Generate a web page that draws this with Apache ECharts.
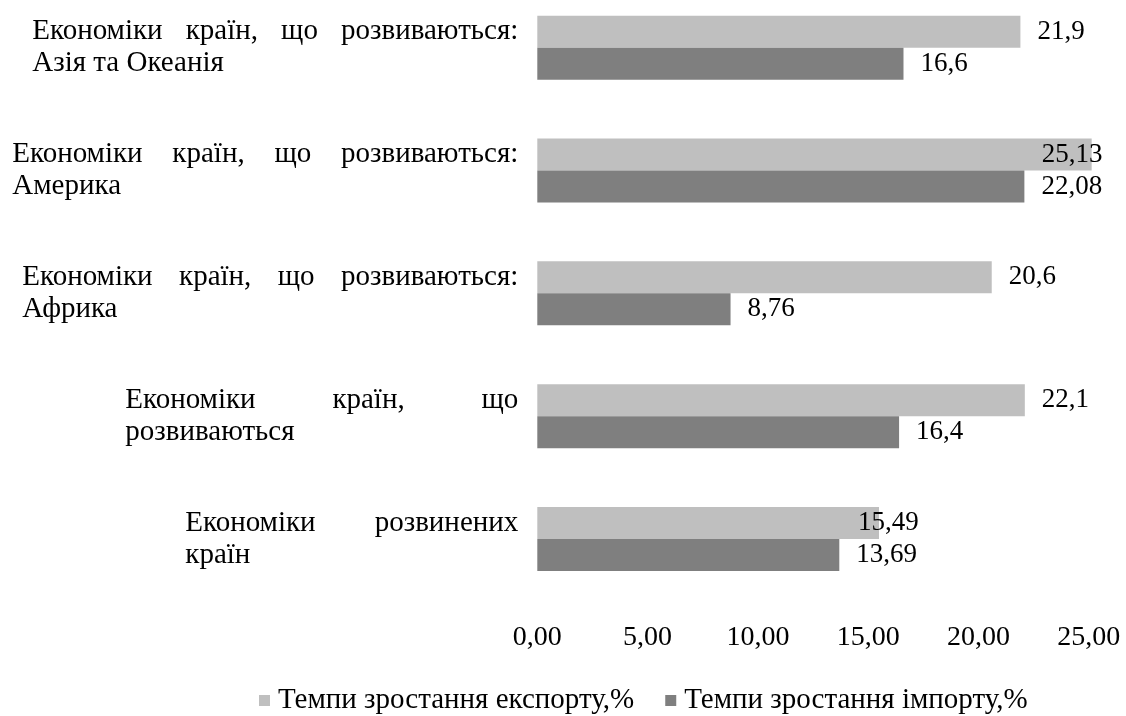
<!DOCTYPE html>
<html>
<head>
<meta charset="utf-8">
<script src="https://cdn.jsdelivr.net/npm/echarts@6/dist/echarts.min.js"></script>
<style>
html,body{margin:0;padding:0;background:#fff;}
#chart{width:1126px;height:716px;}
</style>
</head>
<body>
<div id="chart"></div>
<script>
// Data (bottom to top, as drawn on the category axis)
const categories = [
  'Економіки розвинених країн',
  'Економіки країн, що розвиваються',
  'Економіки країн, що розвиваються: Африка',
  'Економіки країн, що розвиваються: Америка',
  'Економіки країн, що розвиваються: Азія та Океанія'
];
const exportGrowth = [15.49, 22.1, 20.6, 25.13, 21.9];
const importGrowth = [13.69, 16.4, 8.76, 22.08, 16.6];
const seriesNames = ['Темпи зростання експорту,%', 'Темпи зростання імпорту,%'];
const xTicks = [0, 5, 10, 15, 20, 25];

// Layout of the justified category labels (styling only)
const FONT = '"Liberation Serif", "Times New Roman", serif';
const CAT_FS = 29;
const firstLineWords = [2, 3, 4, 4, 4];
const firstLineWidth = [333, 393, 496, 506, 486];
// label shifts for the two overlapping export labels (styling only)
const exportLabelShift = {0: -38, 3: -67};

const cv = document.createElement('canvas').getContext('2d');
cv.font = CAT_FS + 'px ' + FONT;
const rich = {
  w: {fontFamily: FONT, fontSize: CAT_FS, color: '#000', align: 'left', lineHeight: 32}
};
const labelText = categories.map((name, i) => {
  const words = name.split(' ');
  const first = words.slice(0, firstLineWords[i]);
  const rest = words.slice(firstLineWords[i]).join(' ');
  const wordsW = first.reduce((s, w) => s + cv.measureText(w).width, 0);
  const gaps = first.length - 1;
  const g = gaps > 0 ? (firstLineWidth[i] - wordsW) / gaps : 0;
  rich['s' + i] = {width: Math.max(g, 4), fontSize: CAT_FS, fontFamily: FONT, align: 'left', lineHeight: 32};
  let line1 = first.map(w => '{w|' + w + '}').join('{s' + i + '| }');
  return rest ? line1 + '\n{w|' + rest + '}' : line1;
});
const labelMap = {};
categories.forEach((c, i) => labelMap[c] = labelText[i]);

const fmt = v => String(v).replace('.', ',');

const chart = echarts.init(document.getElementById('chart'), null, {renderer: 'canvas'});
chart.setOption({
  animation: false,
  backgroundColor: '#fff',
  textStyle: {fontFamily: FONT},
  grid: {left: 537.3, right: 37.2, top: -13.7, bottom: 115.6, containLabel: false, outerBoundsMode: 'none'},
  legend: {
    data: seriesNames,
    left: 254,
    top: 681,
    icon: 'rect',
    itemWidth: 11,
    itemHeight: 11,
    itemGap: 31,
    textStyle: {fontFamily: FONT, fontSize: 29, color: '#000', padding: [0, 0, 0, 3]}
  },
  xAxis: {
    type: 'value',
    min: xTicks[0],
    max: xTicks[xTicks.length - 1],
    interval: xTicks[1] - xTicks[0],
    axisLine: {show: false},
    axisTick: {show: false},
    splitLine: {show: false},
    axisLabel: {
      fontFamily: FONT, fontSize: 28, color: '#000', margin: 23,
      formatter: v => v.toFixed(2).replace('.', ',')
    }
  },
  yAxis: {
    type: 'category',
    data: categories,
    axisLine: {show: false},
    axisTick: {show: false},
    axisLabel: {
      interval: 0,
      margin: 19,
      align: 'right',
      formatter: v => labelMap[v],
      rich: rich
    }
  },
  series: [
    {
      name: seriesNames[0],
      type: 'bar',
      clip: false,
      barWidth: 32,
      barGap: '0%',
      itemStyle: {color: '#BFBFBF'},
      label: {show: true, position: 'right', distance: 17, fontFamily: FONT, fontSize: 27, color: '#000', formatter: p => fmt(p.value)},
      data: exportGrowth.map((v, i) => exportLabelShift[i] !== undefined ? {value: v, label: {offset: [exportLabelShift[i], 0]}} : v)
    },
    {
      name: seriesNames[1],
      type: 'bar',
      clip: false,
      barWidth: 32,
      barGap: '0%',
      itemStyle: {color: '#7F7F7F'},
      label: {show: true, position: 'right', distance: 17, fontFamily: FONT, fontSize: 27, color: '#000', formatter: p => fmt(p.value)},
      data: importGrowth
    }
  ]
});
</script>
</body>
</html>
